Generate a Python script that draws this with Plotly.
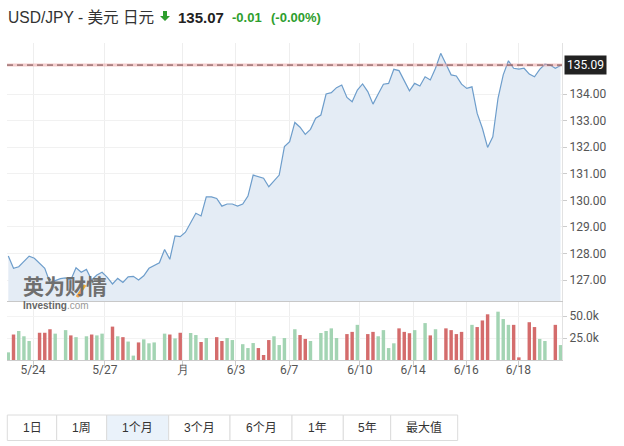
import plotly.graph_objects as go

# ---------------- data ----------------
title_text = "USD/JPY - 美元 日元"
last_price = "135.07"
change_text = "-0.01"
change_pct_text = "(-0.00%)"
prev_close = 135.09

prices = [
    127.90, 127.44, 127.50, 127.69, 127.90, 127.82, 127.63, 127.44, 126.90, 126.98,
    127.05, 127.08, 127.00, 127.46, 127.29, 127.40, 127.00, 127.19, 127.29, 127.10,
    126.85, 127.06, 126.91, 127.12, 127.14, 127.00, 127.16, 127.44, 127.56, 127.65,
    128.15, 127.78, 128.66, 128.63, 128.80, 129.13, 129.51, 129.41, 130.13, 130.13,
    130.07, 129.78, 129.86, 129.86, 129.78, 129.86, 130.16, 130.95, 130.89, 130.83,
    130.51, 130.74, 130.95, 132.02, 132.21, 132.93, 132.75, 132.48, 132.67, 133.09,
    133.21, 134.00, 134.05, 134.24, 134.34, 133.87, 133.71, 134.15, 134.38, 134.09,
    133.62, 134.00, 134.37, 134.40, 134.93, 134.88, 134.50, 134.12, 134.40, 134.30,
    134.65, 134.53, 134.97, 135.53, 135.13, 134.72, 134.68, 134.37, 134.21, 134.27,
    133.27, 132.71, 131.99, 132.39, 133.84, 134.72, 135.25, 134.97, 134.94, 134.97,
    134.75, 134.65, 134.93, 135.12, 135.09, 134.97, 135.07,
]

volumes_k = [
    8.7, 29, 33, 27, 21.6, None, 31, 31, 35, 30,
    None, 34, 28, 26, None, 27, 29, 28, 30, None,
    38, 27, 26, 21, 5, 20, 23.5, 19, 20, None,
    30, 29, 24.6, 31, None, 30.7, 28.4, 20.5, 25, None,
    26, 21.6, 25, 22.7, None, 18, 13.6, 19.3, 13.6, 5.7,
    22.7, 27, 17, 25, None, 35, 28.4, 24, 21.6, None,
    30.7, 33, 36, 25, None, 29.5, 32, 40, None, 29.5,
    32, 27, 34, 13.6, 19, 36, 32, 30.5, 34, None,
    42, 28, 35, None, 36, 34, 29.5, 32, None, 40,
    37.5, 45, 52, None, 55, 46.6, 40, 40, 3, None,
    43, 37.5, 24, 21.6, None, 40, 17,
]

# direction of each bar: G = up, R = down, - = no bar
bar_dirs = list(
    "GRGGG-RRRG" "-GRG-GRGG-" "RGRGGRGGG-" "GRGR-GGRG-" "RRGG-GGGRR"
    "RGGG-GRRG-" "GGGG-RRG-R" "RGGGGRRRG-" "GRG-RRRR-G" "RRR-GGGRR-" "RRGG-RG"
)

date_labels = ["5/24", "5/27", "月", "6/3", "6/7", "6/10", "6/14", "6/16", "6/18"]
date_positions = [4.74, 18.55, 33.5, 43.7, 53.9, 67.5, 77.7, 87.9, 97.9]

price_ticks = [127, 128, 129, 130, 131, 132, 133, 134]
volume_ticks = [25, 50]

buttons = ["1日", "1周", "1个月", "3个月", "6个月", "1年", "5年", "最大值"]
active_button = "1个月"

# ---------------- layout helpers ----------------
W, H = 624, 446


def px(x):
    return x / W


def py(y):
    return 1 - y / H


plot_x0, plot_x1 = 7, 562
price_top, price_bot = 43, 301
vol_top, vol_bot = 302, 360

UP = "#a3d4b3"
DOWN = "#d46c6c"
AXIS_FONT = dict(family="Roboto, Arial, sans-serif", size=12, color="#555")

x_idx = list(range(len(prices)))
bar_colors = [UP if d == "G" else DOWN for d in bar_dirs]

fig = go.Figure()

fig.add_trace(go.Scatter(
    x=x_idx, y=prices, mode="lines",
    line=dict(color="#6d9dcb", width=1.2),
    fill="tozeroy", fillcolor="#e4ecf5",
    xaxis="x2", yaxis="y2", hoverinfo="skip", showlegend=False,
))

fig.add_trace(go.Bar(
    x=x_idx, y=volumes_k, marker=dict(color=bar_colors, line=dict(width=0)),
    width=0.66, xaxis="x", yaxis="y", hoverinfo="skip", showlegend=False,
))

x_range = [-0.25, 106.28]

fig.update_layout(
    width=W, height=H,
    margin=dict(l=0, r=0, t=0, b=0),
    paper_bgcolor="white", plot_bgcolor="white",
    showlegend=False,
    xaxis=dict(
        domain=[px(plot_x0), px(plot_x1)], anchor="y", range=x_range,
        tickvals=date_positions, ticktext=date_labels, tickfont=AXIS_FONT,
        ticks="outside", ticklen=5, tickcolor="#ccc", ticklabelstandoff=-6,
        showline=True, linecolor="#ccc", linewidth=1,
        showgrid=True, gridcolor="#eeeeee", zeroline=False,
        fixedrange=True,
    ),
    xaxis2=dict(
        domain=[px(plot_x0), px(plot_x1)], anchor="y2", range=x_range,
        matches="x", tickvals=date_positions, showticklabels=False,
        showline=True, linecolor="#c8c8c8", linewidth=1,
        showgrid=True, gridcolor="#eeeeee", zeroline=False, ticks="",
    ),
    yaxis=dict(
        domain=[py(vol_bot), py(vol_top)], anchor="x", side="right",
        range=[0, 66], tickvals=volume_ticks,
        ticktext=[f"{v:.1f}k" for v in volume_ticks], tickfont=AXIS_FONT,
        ticks="outside", ticklen=4, tickcolor="#ccc",
        showline=True, linecolor="#e2e2e2",
        showgrid=True, gridcolor="#f3f3f3", zeroline=False,
    ),
    yaxis2=dict(
        domain=[py(price_bot), py(price_top)], anchor="x2", side="right",
        range=[126.21, 135.92], tickvals=price_ticks, tickformat=".2f",
        tickfont=AXIS_FONT, ticks="outside", ticklen=4, tickcolor="#ccc",
        showline=True, linecolor="#e2e2e2",
        showgrid=True, gridcolor="#f1f1f1", zeroline=False,
    ),
)

shapes = []
annotations = []

# previous close line (pink halo + dark dashes)
shapes.append(dict(type="line", xref="paper", yref="y2", x0=px(plot_x0), x1=px(plot_x1),
                   y0=prev_close, y1=prev_close, line=dict(color="rgba(235,160,160,0.55)", width=3)))
shapes.append(dict(type="line", xref="paper", yref="y2", x0=px(plot_x0), x1=px(plot_x1),
                   y0=prev_close, y1=prev_close, line=dict(color="#6e4646", width=1, dash="6px,4px")))

annotations.append(dict(
    xref="paper", yref="y2", x=px(564), y=prev_close, xanchor="left", yanchor="middle",
    text=f"{prev_close:.2f}", showarrow=False, bgcolor="#222222", borderpad=2,
    font=dict(family="Roboto, Arial, sans-serif", size=12, color="white"),
))

# watermark
annotations.append(dict(
    xref="paper", yref="paper", x=px(22), y=py(300.5), xanchor="left", yanchor="bottom",
    text="<b>英为财情</b>", showarrow=False, borderpad=0,
    font=dict(family="Noto Sans CJK SC, sans-serif", size=21, color="#6f6f6f"),
))
shapes.append(dict(type="line", xref="paper", yref="paper", x0=px(77), y0=py(297), x1=px(85), y1=py(285),
                   line=dict(color="#f2a93b", width=3)))
annotations.append(dict(
    xref="paper", yref="paper", x=px(22), y=py(299), xanchor="left", yanchor="top",
    text="<b>Investing</b><span style='color:#999'>.com</span>", showarrow=False, borderpad=0,
    font=dict(family="Liberation Sans, Arial, sans-serif", size=10, color="#666"),
))

# header
HEAD_FONT = "Liberation Sans, Arial, Noto Sans CJK SC, sans-serif"
annotations.append(dict(
    xref="paper", yref="paper", x=px(6), y=py(17), xanchor="left", yanchor="middle",
    text=title_text, showarrow=False, font=dict(family=HEAD_FONT, size=15.6, color="#333"),
))
# green down arrow
ax0, ay0 = 165, 11
shapes.append(dict(
    type="path", xref="paper", yref="paper", fillcolor="#2e9e2e", line=dict(width=0),
    path=(f"M {px(ax0-2)} {py(ay0)} L {px(ax0+2)} {py(ay0)} L {px(ax0+2)} {py(ay0+5)} "
          f"L {px(ax0+5)} {py(ay0+5)} L {px(ax0)} {py(ay0+10)} L {px(ax0-5)} {py(ay0+5)} "
          f"L {px(ax0-2)} {py(ay0+5)} Z"),
))
annotations.append(dict(
    xref="paper", yref="paper", x=px(176), y=py(17), xanchor="left", yanchor="middle",
    text=f"<b>{last_price}</b>", showarrow=False, font=dict(family=HEAD_FONT, size=15, color="#222"),
))
annotations.append(dict(
    xref="paper", yref="paper", x=px(230), y=py(17.5), xanchor="left", yanchor="middle",
    text=f"<b>{change_text}</b>", showarrow=False, font=dict(family=HEAD_FONT, size=13, color="#2e9e2e"),
))
annotations.append(dict(
    xref="paper", yref="paper", x=px(269), y=py(17.5), xanchor="left", yanchor="middle",
    text=f"<b>{change_pct_text}</b>", showarrow=False, font=dict(family=HEAD_FONT, size=13, color="#2e9e2e"),
))

# range buttons
edges = [7.3, 56.7, 106.7, 168.7, 230, 292, 343.3, 390.7, 457.7]
b_top, b_bot = 415, 440.5
for i, lab in enumerate(buttons):
    shapes.append(dict(
        type="rect", xref="paper", yref="paper",
        x0=px(edges[i]), x1=px(edges[i + 1]), y0=py(b_bot), y1=py(b_top),
        line=dict(color="#dcdcdc", width=1),
        fillcolor="#eaf2fa" if lab == active_button else "white", layer="below",
    ))
    annotations.append(dict(
        xref="paper", yref="paper", x=px((edges[i] + edges[i + 1]) / 2), y=py((b_top + b_bot) / 2),
        xanchor="center", yanchor="middle", text=lab, showarrow=False,
        font=dict(family="Liberation Sans, Arial, Noto Sans CJK SC, sans-serif", size=12, color="#333"),
    ))

fig.update_layout(shapes=shapes, annotations=annotations)

fig.write_html(
    "out.html",
    config={"displayModeBar": False},
    post_script="document.body.style.margin='0';document.body.style.overflow='hidden';",
)
